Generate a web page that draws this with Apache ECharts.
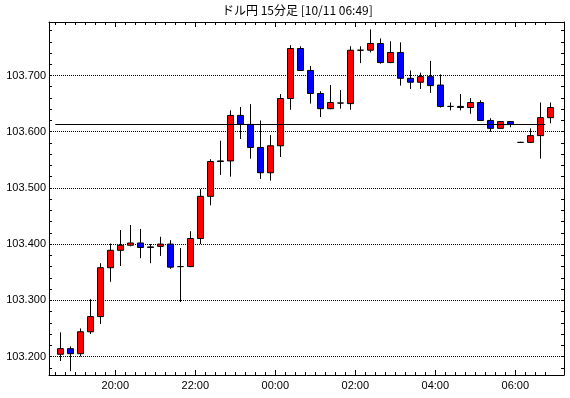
<!DOCTYPE html>
<html><head><meta charset="utf-8">
<script src="https://cdn.jsdelivr.net/npm/echarts@6/dist/echarts.min.js"></script>
<style>html,body{margin:0;padding:0;background:#fff}#c{width:570px;height:398px}</style>
</head><body><div id="c"></div>
<script>
// ---- data ----
const titleText = 'ドル円 15分足 [10/11 06:49]';
const times = ['18:30','18:45','19:00','19:15','19:30','19:45','20:00','20:15','20:30','20:45',
  '21:00','21:15','21:30','21:45','22:00','22:15','22:30','22:45','23:00','23:15',
  '23:30','23:45','00:00','00:15','00:30','00:45','01:00','01:15','01:30','01:45',
  '02:00','02:15','02:30','02:45','03:00','03:15','03:30','03:45','04:00','04:15',
  '04:30','04:45','05:00','05:15','05:30','05:45','06:00','06:15','06:30','06:45'];
const open  = [103.204,103.214,103.205,103.244,103.271,103.358,103.389,103.398,103.402,103.395,
  103.396,103.400,103.360,103.360,103.410,103.485,103.547,103.548,103.629,103.613,
  103.572,103.527,103.575,103.659,103.748,103.709,103.668,103.641,103.651,103.650,
  103.745,103.745,103.757,103.723,103.741,103.695,103.688,103.698,103.683,103.645,
  103.645,103.643,103.652,103.620,103.606,103.618,103.581,103.581,103.593,103.625];
const high  = [103.243,103.218,103.250,103.302,103.366,103.401,103.425,103.434,103.427,103.400,
  103.413,103.407,103.393,103.423,103.498,103.551,103.584,103.638,103.644,103.649,
  103.620,103.594,103.667,103.754,103.752,103.717,103.672,103.683,103.674,103.752,
  103.752,103.782,103.766,103.761,103.759,103.709,103.705,103.726,103.702,103.652,
  103.667,103.660,103.656,103.624,103.618,103.619,103.582,103.606,103.652,103.652];
const low   = [103.192,103.174,103.200,103.240,103.258,103.333,103.361,103.396,103.375,103.366,
  103.379,103.356,103.297,103.359,103.400,103.469,103.523,103.520,103.587,103.552,
  103.516,103.513,103.555,103.639,103.708,103.650,103.626,103.640,103.641,103.639,
  103.722,103.741,103.721,103.722,103.682,103.676,103.676,103.669,103.643,103.638,
  103.638,103.632,103.619,103.600,103.605,103.608,103.580,103.580,103.552,103.615];
const close = [103.214,103.205,103.244,103.271,103.358,103.389,103.398,103.402,103.394,103.394,
  103.400,103.359,103.360,103.410,103.485,103.547,103.548,103.629,103.613,103.572,
  103.527,103.575,103.659,103.748,103.709,103.668,103.641,103.652,103.651,103.745,
  103.745,103.757,103.723,103.741,103.695,103.688,103.698,103.682,103.645,103.645,
  103.643,103.652,103.620,103.606,103.618,103.613,103.581,103.593,103.625,103.643];
const refLevel = 103.6128;
const yLabelValues = [103.2, 103.3, 103.4, 103.5, 103.6, 103.7];
const xLabelTimes = ['20:00','22:00','00:00','02:00','04:00','06:00'];

// ---- derived ----
const candleData = times.map((t, i) => [i + 0.5, open[i], close[i], low[i], high[i]]);
const majorPos = [];
const minorPos = [];
times.forEach((t, i) => { if (xLabelTimes.includes(t)) majorPos.push(i); else minorPos.push(i); });
const yTicks = [];
for (let k = 0; k <= 30; k++) yTicks.push(+(103.18 + 0.02 * k).toFixed(2));

const XMIN = -0.63, XMAX = 50.87;
const YMIN = 103.1671, YMAX = 103.7952;
const black = '#000';
const lblFont = 'Liberation Sans';

function xAx(pos, ticks, len, showLine, showLabel) {
  return {
    type: 'value', min: XMIN, max: XMAX, position: pos,
    splitLine: { show: false },
    axisLine: { show: showLine, onZero: false, lineStyle: { color: black, width: 1 } },
    axisTick: { show: true, inside: true, length: len, customValues: ticks, lineStyle: { color: black, width: 1 } },
    axisLabel: showLabel ? {
      show: true, customValues: ticks, formatter: v => times[Math.round(v)],
      margin: 5, color: black, fontSize: 11, fontFamily: lblFont
    } : { show: false }
  };
}
function yAx(pos, showLabel) {
  return {
    type: 'value', min: YMIN, max: YMAX, position: pos, scale: true,
    splitLine: { show: false },
    axisLine: { show: true, onZero: false, lineStyle: { color: black, width: 1 } },
    axisTick: { show: true, inside: true, length: 3, customValues: yTicks, lineStyle: { color: black, width: 1 } },
    axisLabel: showLabel ? {
      show: true, customValues: yLabelValues, formatter: v => v.toFixed(3),
      margin: 3, color: black, fontSize: 11, fontFamily: lblFont
    } : { show: false }
  };
}

const chart = echarts.init(document.getElementById('c'), null, { renderer: 'canvas' });
chart.setOption({
  animation: false,
  backgroundColor: '#fff',
  title: {
    text: titleText, left: 222, top: 4, padding: 0,
    textStyle: { color: black, fontSize: 12, fontWeight: 'normal', fontFamily: 'Noto Sans CJK JP' }
  },
  grid: { left: 49, top: 22, right: 6, bottom: 23, containLabel: false },
  xAxis: [
    xAx('bottom', majorPos, 5, true, true),
    xAx('bottom', minorPos, 3, false, false),
    xAx('top', majorPos, 5, true, false),
    xAx('top', minorPos, 3, false, false)
  ],
  yAxis: [yAx('left', true), yAx('right', false)],
  series: [
    {
      type: 'candlestick',
      xAxisIndex: 0, yAxisIndex: 0,
      encode: { x: 0, y: [1, 2, 3, 4] },
      data: candleData,
      barWidth: 6,
      z: 2,
      itemStyle: {
        color: '#ff0000', color0: '#0000ff',
        borderColor: black, borderColor0: black, borderColorDoji: black, borderWidth: 1
      },
      markLine: {
        silent: true, z: 1, symbol: ['none', 'none'], label: { show: false },
        lineStyle: { color: black, type: [1, 1], width: 1 },
        emphasis: { disabled: true },
        data: yLabelValues.map(v => ({ yAxis: v }))
      }
    },
    {
      type: 'line',
      xAxisIndex: 0, yAxisIndex: 0,
      data: [[0, refLevel], [times.length - 1, refLevel]],
      symbol: 'none', silent: true, z: 5,
      lineStyle: { color: black, width: 1 }
    }
  ]
});
</script>
</body></html>
